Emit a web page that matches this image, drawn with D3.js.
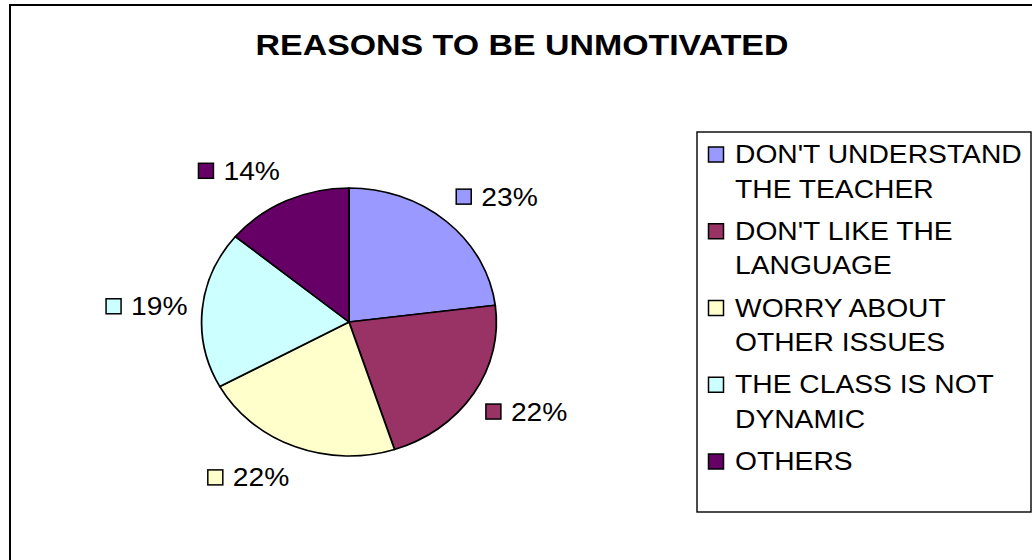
<!DOCTYPE html>
<html>
<head>
<meta charset="utf-8">
<script src="https://cdn.jsdelivr.net/npm/d3@7"></script>
<style>
  html, body { margin: 0; padding: 0; background: #fff; }
  svg { display: block; font-family: "Liberation Sans", Arial, sans-serif; }
</style>
</head>
<body>
<div id="chart"></div>
<script>
// Reasons to be unmotivated - pie chart with legend

const title = 'REASONS TO BE UNMOTIVATED';
const categories = [
  ["DON'T UNDERSTAND", 'THE TEACHER'],
  ["DON'T LIKE THE", 'LANGUAGE'],
  ['WORRY ABOUT', 'OTHER ISSUES'],
  ['THE CLASS IS NOT', 'DYNAMIC'],
  ['OTHERS']
];
const values = [23, 22, 22, 19, 14];
const colors = ['#9999FF', '#993366', '#FFFFCC', '#CCFFFF', '#660066'];

const width = 1032, height = 560;
const stretch = 1.1;            // the original picture is a bit wider than tall
const textStretch = 1.13;
const cx = 349, cy = 322, radius = 134;

const svg = d3.select('#chart')
  .append('svg')
  .attr('width', width)
  .attr('height', height);

// outer frame
svg.append('rect')
  .attr('x', 10).attr('y', 5)
  .attr('width', 1040).attr('height', 600)
  .attr('fill', '#fff')
  .attr('stroke', '#000')
  .attr('stroke-width', 2);

// title
svg.append('text')
  .attr('transform', `translate(522,55) scale(${textStretch},1)`)
  .attr('text-anchor', 'middle')
  .style('font-size', '30px')
  .style('font-weight', 'bold')
  .text(title);

const total = d3.sum(values);
const data = values.map((v, i) => ({value: v, color: colors[i], label: categories[i]}));

const pie = d3.pie()
  .value(d => d.value)
  .sort(null);

const arc = d3.arc()
  .innerRadius(0)
  .outerRadius(radius);

const arcs = pie(data);

const pieG = svg.append('g')
  .attr('transform', `translate(${cx},${cy}) scale(${stretch},1)`);

pieG.selectAll('path')
  .data(arcs)
  .enter()
  .append('path')
  .attr('d', arc)
  .attr('fill', d => d.data.color)
  .attr('stroke', '#000')
  .attr('stroke-width', 1.6)
  .attr('stroke-linejoin', 'round');

// percentage labels with a small colour box, placed just outside the pie
const labelRx = radius * 1.1, labelRy = radius * 1.18;
const boxH = 18;
arcs.forEach(d => {
  const mid = (d.startAngle + d.endAngle) / 2;
  const s = Math.sin(mid), c = Math.cos(mid);
  const ax = cx + labelRx * s * stretch;
  const ay = cy - labelRy * c;

  const g = svg.append('g');
  g.append('rect')
    .attr('x', 0).attr('y', 1.5)
    .attr('width', 15).attr('height', 15)
    .attr('fill', d.data.color)
    .attr('stroke', '#000')
    .attr('stroke-width', 1.5);
  g.append('text')
    .attr('transform', `translate(25,18) scale(${textStretch},1)`)
    .style('font-size', '25px')
    .text(Math.round(d.data.value / total * 100) + '%');

  const w = g.node().getBBox().width;
  const x = s >= 0 ? ax : ax - w;
  const y = ay - boxH * (1 + c) / 2;
  g.attr('transform', `translate(${x},${y})`);
});

// legend
const legend = svg.append('g');
legend.append('rect')
  .attr('x', 697).attr('y', 132)
  .attr('width', 334).attr('height', 380)
  .attr('fill', '#fff')
  .attr('stroke', '#000')
  .attr('stroke-width', 1.4);

const itemStep = 76.75, lineStep = 34.5;
data.forEach((d, i) => {
  const base = 163 + i * itemStep;
  legend.append('rect')
    .attr('x', 708.5).attr('y', base - 16)
    .attr('width', 15).attr('height', 15)
    .attr('fill', d.color)
    .attr('stroke', '#000')
    .attr('stroke-width', 1.5);
  d.label.forEach((line, j) => {
    legend.append('text')
      .attr('transform', `translate(735,${base + j * lineStep}) scale(${textStretch},1)`)
      .style('font-size', '25px')
      .text(line);
  });
});
</script>
</body>
</html>
